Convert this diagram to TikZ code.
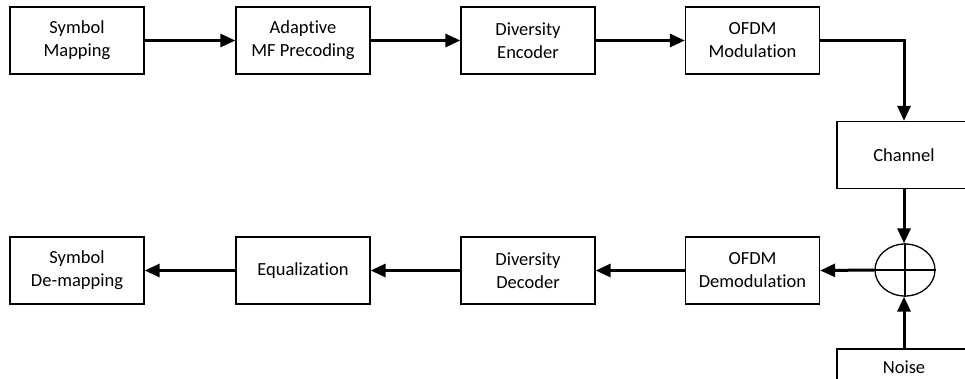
\documentclass[tikz,border=0pt]{standalone}
\usepackage{fontspec}
\setmainfont[Ligatures=CommonOff]{Carlito}
\usetikzlibrary{arrows.meta,shapes.geometric}
\begin{document}
\begin{tikzpicture}[x=1pt,y=-1pt,
  blk/.style={draw,line width=1.3pt,minimum width=134pt,minimum height=67pt,inner sep=0pt,align=center,font=\fontsize{18.5}{23}\selectfont},
  flow/.style={line width=3pt,-{Triangle[length=15pt,width=13pt]}},
  summer/.style={draw,ellipse,line width=1.3pt,minimum width=60pt,minimum height=52pt,inner sep=0pt}]
\useasboundingbox (0,0) rectangle (965,378);
\clip (0,0) rectangle (965,378);
\node[blk] (sm) at (77,40.5) {Symbol\\Mapping};
\node[blk] (mf) at (303,40.5) {Adaptive\\MF Precoding};
\node[blk] (de) at (528,40.5) {Diversity\\Encoder};
\node[blk] (om) at (752.5,40.5) {OFDM\\Modulation};
\node[blk] (ch) at (904,155) {Channel};
\node[summer] (sum) at (905,270) {};
\draw[line width=1.3pt] (sum.north) -- (sum.south) (sum.west) -- (sum.east);
\node[blk] (no) at (904,382.5) {\raisebox{30pt}{Noise}};
\node[blk] (od) at (752.5,270.5) {OFDM\\Demodulation};
\node[blk] (dd) at (528,270.5) {Diversity\\Decoder};
\node[blk] (eq) at (303,270.5) {Equalization};
\node[blk] (sd) at (77,270.5) {Symbol\\De-mapping};
\draw[flow] (sm) -- (mf);
\draw[flow] (mf) -- (de);
\draw[flow] (de) -- (om);
\draw[flow] (om.east) -| (ch.north);
\draw[flow] (ch.south) -- (ch.south |- sum.north);
\draw[flow] (no.north) -- (no.north |- sum.south);
\draw[flow] (sum.west) -- (od.east);
\draw[flow] (od) -- (dd);
\draw[flow] (dd) -- (eq);
\draw[flow] (eq) -- (sd);
\end{tikzpicture}
\end{document}
